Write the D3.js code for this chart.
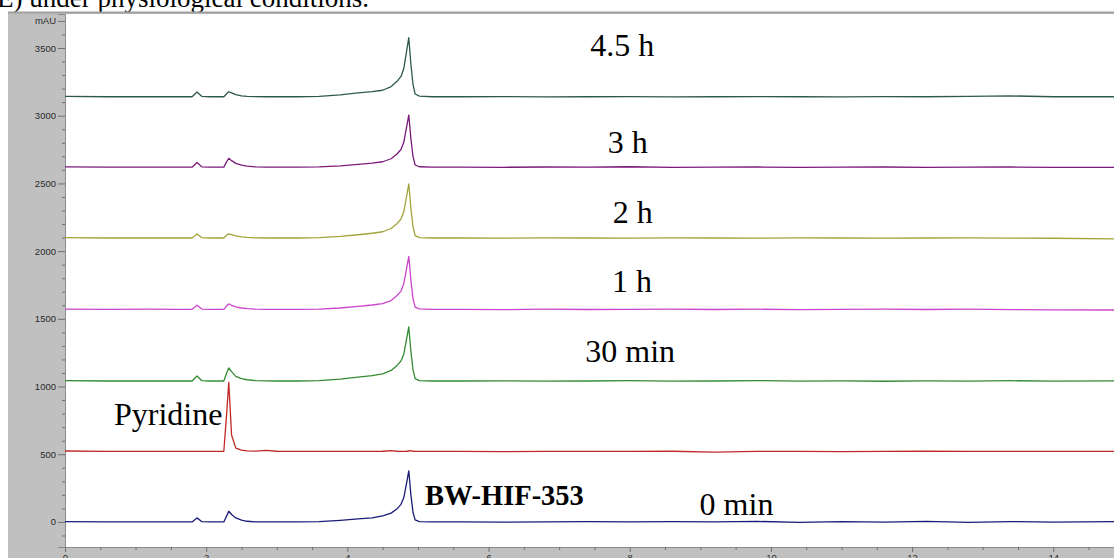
<!DOCTYPE html>
<html><head><meta charset="utf-8">
<script src="https://cdn.jsdelivr.net/npm/d3@7/dist/d3.min.js"></script>
<style>body{margin:0;background:#fff;overflow:hidden}svg{display:block}</style>
</head><body>
<svg id="chart" width="1114" height="558"></svg>
<script>
// retention times (min), shared by every trace
const times = [0, 0.6, 1.2, 1.6, 1.80, 1.87, 1.94, 2.05, 2.25, 2.29, 2.32, 2.36, 2.42, 2.50, 2.58, 2.70, 2.85, 3.0, 3.3, 3.6, 3.9, 4.15, 4.35, 4.5, 4.62, 4.70, 4.76, 4.80, 4.84, 4.87, 4.90, 4.93, 4.96, 5.02, 5.2, 5.6, 6.2, 6.8, 7.4, 8.0, 8.6, 9.2, 9.8, 10.4, 11.0, 11.6, 12.2, 12.8, 13.4, 14.0, 14.86];

// absorbance (mAU) of each trace, offset as in the original chromatogram
const trace45h = [3142,3140,3140,3140,3140,3175,3142,3140,3140,3162,3177,3168,3155,3147,3143,3141,3140,3140,3140,3143,3154,3168,3178,3188,3215,3252,3290,3350,3480,3576,3380,3230,3160,3144,3140,3140,3141,3139,3140,3141,3139,3140,3141,3140,3139,3141,3140,3142,3146,3140,3140];
const trace3h  = [2622,2620,2620,2620,2620,2655,2622,2620,2620,2660,2685,2668,2648,2635,2627,2622,2620,2620,2620,2622,2630,2640,2650,2660,2682,2715,2750,2805,2920,3004,2830,2698,2636,2623,2620,2620,2619,2621,2620,2623,2619,2620,2621,2619,2620,2621,2619,2620,2621,2619,2618];
const trace2h  = [2099,2097,2097,2097,2097,2127,2099,2097,2097,2118,2127,2121,2112,2105,2101,2098,2097,2097,2097,2100,2109,2121,2132,2143,2167,2202,2237,2292,2407,2496,2317,2179,2115,2100,2097,2097,2096,2098,2097,2096,2098,2097,2096,2098,2097,2096,2097,2098,2096,2095,2090];
const trace1h  = [1572,1570,1571,1570,1570,1600,1572,1570,1570,1595,1610,1600,1588,1580,1575,1572,1570,1570,1570,1572,1580,1592,1602,1612,1635,1670,1705,1760,1875,1961,1785,1650,1587,1573,1570,1570,1568,1571,1569,1570,1572,1569,1571,1568,1570,1572,1569,1571,1568,1566,1565];
const trace30m = [1043,1041,1041,1041,1041,1078,1043,1041,1041,1100,1137,1110,1075,1058,1050,1044,1042,1041,1041,1044,1055,1069,1081,1093,1119,1153,1189,1241,1356,1440,1261,1123,1059,1044,1041,1041,1042,1040,1041,1043,1040,1041,1044,1040,1042,1039,1042,1040,1043,1040,1042];
const tracePyr = [524,521,521,521,521,521,521,521,522,800,1031,640,545,530,525,523,528,522,521,521,521,521,521,522,526,522,521,521,522,524,526,522,521,521,521,521,519,521,521,521,522,516,521,521,520,521,522,521,521,521,521];
const trace0m  = [3,0,0,0,0,30,2,0,0,45,79,55,30,14,5,1,0,0,0,3,12,22,30,45,65,95,130,180,290,377,200,70,15,3,0,0,-2,0,3,0,2,0,4,-3,3,-2,4,-3,3,-2,2];

const seriesNames = ["4.5 h", "3 h", "2 h", "1 h", "30 min", "Pyridine", "0 min"];
const seriesValues = [trace45h, trace3h, trace2h, trace1h, trace30m, tracePyr, trace0m];

const xTicks = [0, 2, 4, 6, 8, 10, 12, 14];
const xMinorTicks = [0.5,1,1.5,2.5,3,3.5,4.5,5,5.5,6.5,7,7.5,8.5,9,9.5,10.5,11,11.5,12.5,13,13.5,14.5];
const yTicks = [0, 500, 1000, 1500, 2000, 2500, 3000, 3500, 3700];
const yTickLabels = ["0", "500", "1000", "1500", "2000", "2500", "3000", "3500", "mAU"];
const yMinorTicks = [-100,100,200,300,400,600,700,800,900,1100,1200,1300,1400,1600,1700,1800,1900,2100,2200,2300,2400,2600,2700,2800,2900,3100,3200,3300,3400,3600];

// styling / layout
const colors = ["#2f5a48", "#7a1a7a", "#a3a33a", "#cc44cc", "#338a33", "#c02828", "#1c1c78"];
const labelDefs = [
  {text: "4.5 h", t: 7.44, v: 3441, anchor: "start", bold: false},
  {text: "3 h", t: 7.69, v: 2725, anchor: "start", bold: false},
  {text: "2 h", t: 7.76, v: 2208, anchor: "start", bold: false},
  {text: "1 h", t: 7.75, v: 1698, anchor: "start", bold: false},
  {text: "30 min", t: 7.37, v: 1181, anchor: "start", bold: false},
  {text: "Pyridine", t: 2.23, v: 716, anchor: "end", bold: false},
  {text: "BW-HIF-353", t: 5.10, v: 126, anchor: "start", bold: true},
  {text: "0 min", t: 8.99, v: 52, anchor: "start", bold: false}
];

const W = 1114, H = 558;
const plot = {left: 65, right: 1114, top: 14, bottom: 547};
const svg = d3.select("#chart");

const x = d3.scaleLinear().domain([0, 14.86]).range([plot.left, plot.right]);
const y = d3.scaleLinear().domain([-185, 3751]).range([plot.bottom, plot.top]);

// header text (cut by the top of the image)
svg.append("text").attr("x", -3).attr("y", 6.5)
  .attr("font-family", "'Liberation Serif','Times New Roman',serif")
  .attr("font-size", 27).attr("fill", "#000")
  .text("E) under physiological conditions.");

// grey instrument panel
svg.append("rect").attr("x", 8).attr("y", 12).attr("width", W - 8).attr("height", H - 12).attr("fill", "#c0c0c0");
svg.append("line").attr("x1", 8).attr("x2", W).attr("y1", 12.5).attr("y2", 12.5).attr("stroke", "#a0a0a0").attr("stroke-width", 2);
svg.append("rect").attr("x", plot.left).attr("y", plot.top).attr("width", plot.right - plot.left).attr("height", plot.bottom - plot.top).attr("fill", "#fff");

// axes
const axisFont = "'Liberation Sans',Arial,sans-serif";
const gy = svg.append("g").attr("transform", `translate(${plot.left},0)`)
  .call(d3.axisLeft(y).tickValues(yTicks).tickSize(7).tickPadding(2)
    .tickFormat((d, i) => yTickLabels[i]));
const gyMinor = svg.append("g").attr("transform", `translate(${plot.left},0)`)
  .call(d3.axisLeft(y).tickValues(yMinorTicks).tickSize(3).tickFormat(""));
const gx = svg.append("g").attr("transform", `translate(0,${plot.bottom})`)
  .call(d3.axisBottom(x).tickValues(xTicks).tickSize(5).tickPadding(2).tickFormat(d3.format("d")));
const gxMinor = svg.append("g").attr("transform", `translate(0,${plot.bottom})`)
  .call(d3.axisBottom(x).tickValues(xMinorTicks).tickSize(3).tickFormat(""));
[gy, gyMinor, gx, gxMinor].forEach(g => {
  g.select(".domain").attr("stroke", "#8c8c8c");
  g.selectAll(".tick line").attr("stroke", "#6e6e6e");
  g.selectAll(".tick text").attr("fill", "#2a2a2a").attr("font-family", axisFont).attr("font-size", 9.5);
});
gyMinor.select(".domain").remove();
gxMinor.select(".domain").remove();

// traces
const line = d3.line().x((d, i) => x(times[i])).y(d => y(d));
svg.append("g").selectAll("path").data(seriesValues).join("path")
  .attr("d", d => line(d))
  .attr("fill", "none")
  .attr("stroke", (d, i) => colors[i])
  .attr("stroke-width", 1.3)
  .attr("stroke-linejoin", "round");

// annotations
svg.append("g").selectAll("text").data(labelDefs).join("text")
  .attr("x", d => x(d.t)).attr("y", d => y(d.v))
  .attr("text-anchor", d => d.anchor)
  .attr("font-family", "'Liberation Serif','Times New Roman',serif")
  .attr("font-size", d => d.bold ? 28.5 : 32)
  .attr("font-weight", d => d.bold ? "bold" : "normal")
  .attr("fill", "#000")
  .text(d => d.text);
</script>
</body></html>
